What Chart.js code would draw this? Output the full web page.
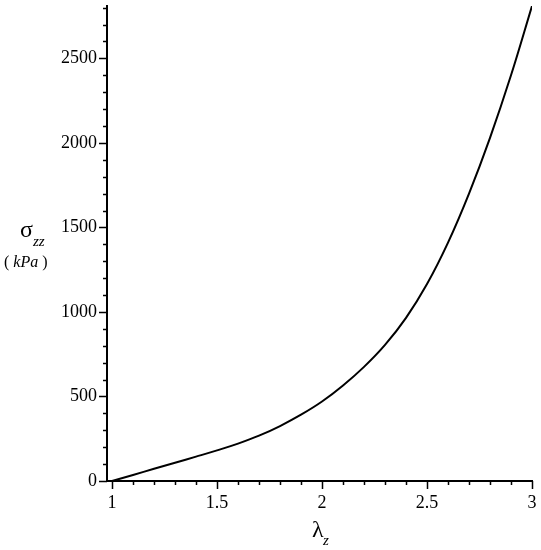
<!DOCTYPE html>
<html>
<head>
<meta charset="utf-8">
<script src="https://cdn.jsdelivr.net/npm/chart.js@4.4.1/dist/chart.umd.min.js"></script>
<style>
  body { margin:0; background:#fff; }
  #wrap { position:relative; width:541px; height:550px; font-family:'Liberation Serif', serif; color:#000; }
  #wrap canvas { position:absolute; left:0; top:0; }
  .lbl { position:absolute; white-space:nowrap; }
</style>
</head>
<body>
<div id="wrap">
  <canvas id="chart" width="541" height="550"></canvas>
  <span class="lbl" style="left:20px; top:217px; font-size:24px; line-height:24px;">σ</span>
  <span class="lbl" style="left:33px; top:234px; font-size:15px; line-height:15px; font-style:italic;">zz</span>
  <span class="lbl" style="left:4px; top:254px; font-size:16px; line-height:16px;">( <i>kPa</i> )</span>
  <span class="lbl" style="left:312px; top:517px; font-size:24px; line-height:24px;">λ</span>
  <span class="lbl" style="left:323px; top:533px; font-size:15px; line-height:15px; font-style:italic;">z</span>
</div>
<script>
// stretch ratio λz and axial stress σzz (kPa)
const lambdaZ = [1, 1.1, 1.2, 1.3, 1.4, 1.5, 1.6, 1.7, 1.8, 1.9, 2,
                 2.1, 2.2, 2.3, 2.4, 2.5, 2.6, 2.7, 2.8, 2.9, 3];
const sigmaZZ = [0, 36, 72, 108, 144, 181, 221, 268, 325, 392, 470,
                 565, 675, 805, 965, 1165, 1410, 1700, 2030, 2400, 2810];

// tick positions (minor + major) and which ones get a label
const xTicks = [1, 1.1, 1.2, 1.3, 1.4, 1.5, 1.6, 1.7, 1.8, 1.9, 2,
                2.1, 2.2, 2.3, 2.4, 2.5, 2.6, 2.7, 2.8, 2.9, 3];
const xLabels = [1, 1.5, 2, 2.5, 3];
const yTicks = [0, 100, 200, 300, 400, 500, 600, 700, 800, 900, 1000,
                1100, 1200, 1300, 1400, 1500, 1600, 1700, 1800, 1900, 2000,
                2100, 2200, 2300, 2400, 2500, 2600, 2700, 2800];
const yLabels = [0, 500, 1000, 1500, 2000, 2500];

const TICK_FONT = { family: 'Liberation Serif', size: 18 };

// outward tick marks, long for labelled ticks, short for minor ones
const tickMarks = {
  id: 'tickMarks',
  afterDraw(chart) {
    const { ctx, chartArea } = chart;
    const xs = chart.scales.x, ys = chart.scales.y;
    ctx.save();
    ctx.strokeStyle = '#000';
    ctx.lineWidth = 1.5;
    ctx.beginPath();
    xs.ticks.forEach(t => {
      const px = Math.round(xs.getPixelForValue(t.value)) + 0.5;
      const len = t.label ? 8 : 4;
      ctx.moveTo(px, chartArea.bottom);
      ctx.lineTo(px, chartArea.bottom + len);
    });
    ys.ticks.forEach(t => {
      const py = Math.round(ys.getPixelForValue(t.value)) + 0.5;
      const len = t.label ? 8 : 4;
      ctx.moveTo(chartArea.left, py);
      ctx.lineTo(chartArea.left - len, py);
    });
    ctx.stroke();
    ctx.restore();
  }
};

new Chart(document.getElementById('chart'), {
  type: 'line',
  data: {
    datasets: [{
      data: lambdaZ.map((x, i) => ({ x, y: sigmaZZ[i] })),
      borderColor: '#000',
      borderWidth: 2,
      pointRadius: 0,
      tension: 0.4,
      fill: false,
    }],
  },
  options: {
    responsive: false,
    animation: false,
    layout: { padding: { top: 6, right: 9, bottom: 29, left: 0 } },
    plugins: { legend: { display: false }, tooltip: { enabled: false } },
    scales: {
      x: {
        type: 'linear',
        min: 0.976,
        max: 3,
        afterBuildTicks: s => { s.ticks = xTicks.map(v => ({ value: v })); },
        afterFit: s => { s.height = 40; s.paddingLeft = 0; s.paddingRight = 0; },
        grid: { display: false, drawTicks: false },
        border: { display: true, color: '#000', width: 2 },
        ticks: {
          padding: 11,
          color: '#000',
          font: TICK_FONT,
          maxRotation: 0,
          autoSkip: false,
          callback: v => xLabels.includes(Math.round(v * 10) / 10) ? String(Math.round(v * 10) / 10) : '',
        },
      },
      y: {
        type: 'linear',
        min: 0,
        max: 2810,
        afterBuildTicks: s => { s.ticks = yTicks.map(v => ({ value: v })); },
        afterFit: s => { s.width = 107; s.paddingTop = 0; s.paddingBottom = 0; },
        grid: { display: false, drawTicks: false },
        border: { display: true, color: '#000', width: 2 },
        ticks: {
          padding: 10,
          color: '#000',
          font: TICK_FONT,
          autoSkip: false,
          callback: v => yLabels.includes(v) ? String(v) : '',
        },
      },
    },
  },
  plugins: [tickMarks],
});
</script>
</body>
</html>
